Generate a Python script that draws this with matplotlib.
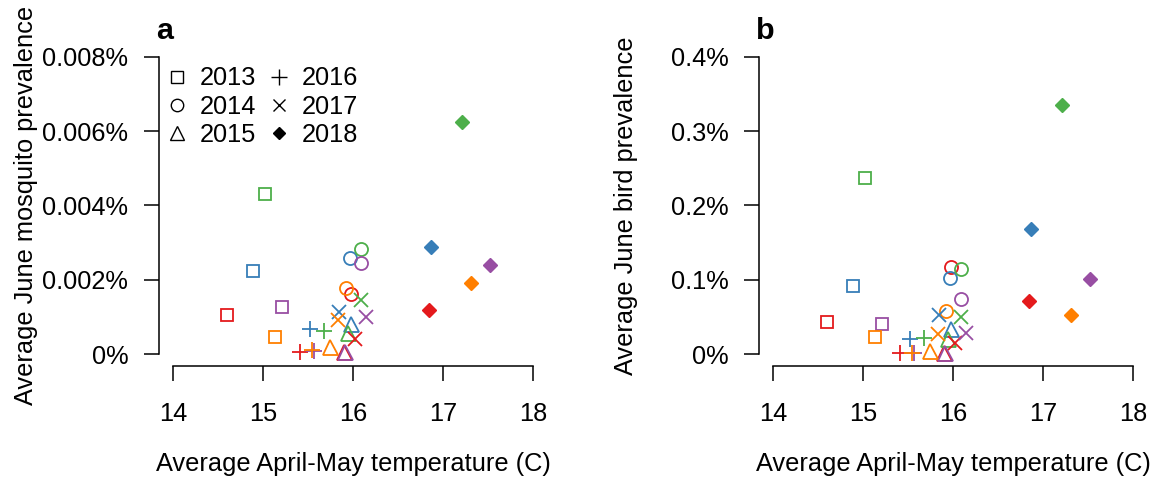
import matplotlib
matplotlib.use("Agg")
import matplotlib.pyplot as plt
from matplotlib.lines import Line2D

plt.rcParams['font.family'] = ['Liberation Sans', 'DejaVu Sans']
plt.rcParams['font.size'] = 18.3

# regions (colour) in order: red, blue, green, purple, orange
region_colors = ['#E41A1C', '#377EB8', '#4DAF4A', '#984EA3', '#FF7F00']
years = ['2013', '2014', '2015', '2016', '2017', '2018']
year_markers = ['s', 'o', '^', '+', 'x', 'D']

# average April-May temperature (C), one list per year
temp_2013 = [14.60, 14.89, 15.02, 15.21, 15.13]
temp_2014 = [15.98, 15.97, 16.09, 16.09, 15.92]
temp_2015 = [15.90, 15.98, 15.95, 15.91, 15.75]
temp_2016 = [15.41, 15.52, 15.68, 15.57, 15.55]
temp_2017 = [16.02, 15.85, 16.09, 16.15, 15.83]
temp_2018 = [16.85, 16.87, 17.21, 17.52, 17.31]

# average June mosquito prevalence (%)
mosq_2013 = [0.00105, 0.00224, 0.00430, 0.00127, 0.00045]
mosq_2014 = [0.00162, 0.00259, 0.00282, 0.00246, 0.00178]
mosq_2015 = [0.00005, 0.00081, 0.00058, 0.00006, 0.00020]
mosq_2016 = [0.00006, 0.00067, 0.00062, 0.00008, 0.00010]
mosq_2017 = [0.00040, 0.00113, 0.00146, 0.00100, 0.00092]
mosq_2018 = [0.00119, 0.00287, 0.00625, 0.00240, 0.00192]

# average June bird prevalence (%)
bird_2013 = [0.0435, 0.0916, 0.237, 0.040, 0.0225]
bird_2014 = [0.1167, 0.102, 0.114, 0.0745, 0.058]
bird_2015 = [0.002, 0.034, 0.020, 0.002, 0.004]
bird_2016 = [0.002, 0.020, 0.022, 0.001, 0.001]
bird_2017 = [0.015, 0.0525, 0.050, 0.029, 0.027]
bird_2018 = [0.071, 0.168, 0.335, 0.101, 0.052]

temps = [temp_2013, temp_2014, temp_2015, temp_2016, temp_2017, temp_2018]
mosq = [mosq_2013, mosq_2014, mosq_2015, mosq_2016, mosq_2017, mosq_2018]
bird = [bird_2013, bird_2014, bird_2015, bird_2016, bird_2017, bird_2018]

mosq_ticks = [0, 0.002, 0.004, 0.006, 0.008]
mosq_labels = ['0%', '0.002%', '0.004%', '0.006%', '0.008%']
bird_ticks = [0, 0.1, 0.2, 0.3, 0.4]
bird_labels = ['0%', '0.1%', '0.2%', '0.3%', '0.4%']
x_ticks = [14, 15, 16, 17, 18]

msize = {'s': 8.8, 'o': 9.4, '^': 10.8, '+': 12, 'x': 9.5, 'D': 7}

fig = plt.figure(figsize=(11.55, 4.88), dpi=100)
ax1 = fig.add_axes([0.1373, 0.25, 0.3366, 0.658])
ax2 = fig.add_axes([0.6568, 0.25, 0.3366, 0.658])


def panel(ax, yvals, yticks, ylabels, ylabel, letter):
    for i, m in enumerate(year_markers):
        for j, c in enumerate(region_colors):
            if m == 'D':
                ax.plot(temps[i][j], yvals[i][j], marker=m, ms=msize[m],
                        color=c, mec=c, ls='none')
            else:
                ax.plot(temps[i][j], yvals[i][j], marker=m, ms=msize[m],
                        mfc='none', mec=c, mew=1.3, ls='none')
    top = yticks[-1]
    pad = 0.04 * top
    ax.set_xlim(13.84, 18.16)
    ax.set_ylim(-pad, top + pad)
    ax.set_xticks(x_ticks)
    ax.set_yticks(yticks)
    ax.set_yticklabels(ylabels)
    for s in ['top', 'right']:
        ax.spines[s].set_visible(False)
    ax.spines['left'].set_bounds(0, top)
    ax.spines['bottom'].set_bounds(14, 18)
    for s in ['left', 'bottom']:
        ax.spines[s].set_linewidth(1.1)
    ax.tick_params(axis='both', direction='out', length=10.8, width=1.1)
    ax.tick_params(axis='y', pad=11)
    ax.tick_params(axis='x', pad=15)
    ax.set_xlabel('Average April-May temperature (C)')
    ax.xaxis.set_label_coords(0.5, -0.268)
    ax.set_ylabel(ylabel)
    ax.yaxis.set_label_coords(-0.31, 0.5)
    ax.set_title(letter, loc='left', fontweight='bold', pad=2, x=-0.006)


panel(ax1, mosq, mosq_ticks, mosq_labels, 'Average June mosquito prevalence', 'a')
panel(ax2, bird, bird_ticks, bird_labels, 'Average June bird prevalence', 'b')

handles = []
for yr, m in zip(years, year_markers):
    if m == 'D':
        h = Line2D([], [], marker=m, ms=6, color='black', ls='none')
    else:
        h = Line2D([], [], marker=m, ms=msize[m] * 0.95, mfc='none', mec='black',
                   mew=1.0, ls='none')
    handles.append(h)
ax1.legend(handles, years, ncol=2, loc='upper left', bbox_to_anchor=(0.022, 0.933),
           frameon=False, borderpad=0, borderaxespad=0, handlelength=0.8,
           handletextpad=0.48, columnspacing=0.5, labelspacing=0.17)

fig.savefig('out.png', dpi=100)
